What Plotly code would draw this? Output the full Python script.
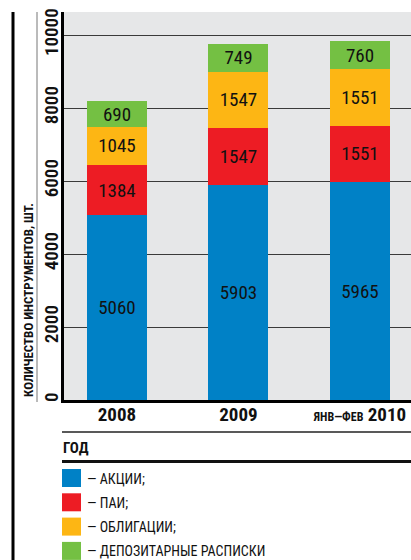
import plotly.graph_objects as go

# Data: number of instruments by type
categories = ["2008", "2009", "2010"]
category_labels = ["2008", "2009", "<span style=\"font-size:12px\">ЯНВ—ФЕВ</span> 2010"]
series_names = ["АКЦИИ;", "ПАИ;", "ОБЛИГАЦИИ;", "ДЕПОЗИТАРНЫЕ РАСПИСКИ"]
shares = [5060, 5903, 5965]
funds = [1384, 1547, 1551]
bonds = [1045, 1547, 1551]
receipts = [690, 749, 760]
series_values = [shares, funds, bonds, receipts]
series_colors = ["#0081c6", "#ed1c24", "#fdb614", "#74c043"]
y_ticks = [0, 2000, 4000, 6000, 8000, 10000]

FONT = "Roboto Condensed, DejaVu Sans Condensed, sans-serif"
W, H = 411, 560
L, T, B = 64, 12, 160
PLOT_W = W - L
PLOT_H = H - T - B


def px(x):
    return (x - L) / PLOT_W


def py(y):
    return (H - B - y) / PLOT_H


fig = go.Figure()
for name, vals, col in zip(series_names, series_values, series_colors):
    fig.add_trace(go.Bar(
        x=list(range(len(categories))), y=vals, name=name,
        marker=dict(color=col, line=dict(width=0)),
        width=0.494,
        text=[str(v) for v in vals], textposition="inside",
        insidetextanchor="middle", textangle=0,
        constraintext="none",
        textfont=dict(family=FONT, size=19, color="#111111", weight="normal"),
        showlegend=False,
    ))

shapes = []
annotations = []

# frame lines outside the plot
shapes.append(dict(type="line", xref="paper", yref="paper",
                   x0=px(13), x1=px(13), y0=py(12), y1=py(560),
                   line=dict(color="#000000", width=3)))
shapes.append(dict(type="line", xref="paper", yref="paper",
                   x0=px(37), x1=px(37), y0=py(12), y1=py(402),
                   line=dict(color="#777777", width=1)))
shapes.append(dict(type="line", xref="paper", yref="paper",
                   x0=px(62), x1=px(411), y0=py(432), y1=py(432),
                   line=dict(color="#222222", width=1.3)))
shapes.append(dict(type="line", xref="paper", yref="paper",
                   x0=px(62), x1=px(411), y0=py(461.5), y1=py(461.5),
                   line=dict(color="#111111", width=3)))

annotations.append(dict(
    text="<b>КОЛИЧЕСТВО ИНСТРУМЕНТОВ, ШТ.</b>", xref="paper", yref="paper",
    x=px(28), y=py(399), xanchor="center", yanchor="bottom", textangle=-90,
    showarrow=False, font=dict(family=FONT, size=13, color="#111111")))
annotations.append(dict(
    text="<b>ГОД</b>", xref="paper", yref="paper",
    x=px(61), y=py(447.5), xanchor="left", yanchor="middle",
    showarrow=False, font=dict(family=FONT, size=15, color="#111111")))

# legend swatches
for i, (name, col) in enumerate(zip(series_names, series_colors)):
    top = 469 + i * 24.3
    shapes.append(dict(type="rect", xref="paper", yref="paper",
                       x0=px(62), x1=px(81), y0=py(top), y1=py(top + 18),
                       fillcolor=col, line=dict(width=0)))
    annotations.append(dict(
        text="— " + name, xref="paper", yref="paper",
        x=px(85), y=py(top + 9.5), xanchor="left", yanchor="middle",
        showarrow=False, font=dict(family=FONT, size=14, color="#111111")))

fig.update_layout(
    width=W, height=H,
    margin=dict(l=L, r=0, t=T, b=B, pad=0),
    barmode="stack",
    plot_bgcolor="#e6e7e8",
    paper_bgcolor="#ffffff",
    font=dict(family=FONT, color="#111111"),
    shapes=shapes,
    annotations=annotations,
    xaxis=dict(
        range=[-0.436, 2.42],
        tickvals=list(range(len(categories))), ticktext=category_labels,
        tickfont=dict(family=FONT, size=19, color="#111111", weight="bold"),
        ticklabeloverflow="allow",
        ticklabelstandoff=-5,
        showline=True, linecolor="#000000", linewidth=3,
        showgrid=False, zeroline=False, ticks="", fixedrange=True,
    ),
    yaxis=dict(
        range=[0, 10630], tickvals=y_ticks,
        ticktext=[str(v) for v in y_ticks],
        tickangle=-90,
        tickfont=dict(family=FONT, size=19, color="#111111", weight=600),
        ticklabelstandoff=-5,
        showline=True, linecolor="#000000", linewidth=3,
        showgrid=True, gridcolor="#3a3a3a", gridwidth=1.2,
        zeroline=False, ticks="", fixedrange=True,
    ),
)

fig.write_html("out.html")
